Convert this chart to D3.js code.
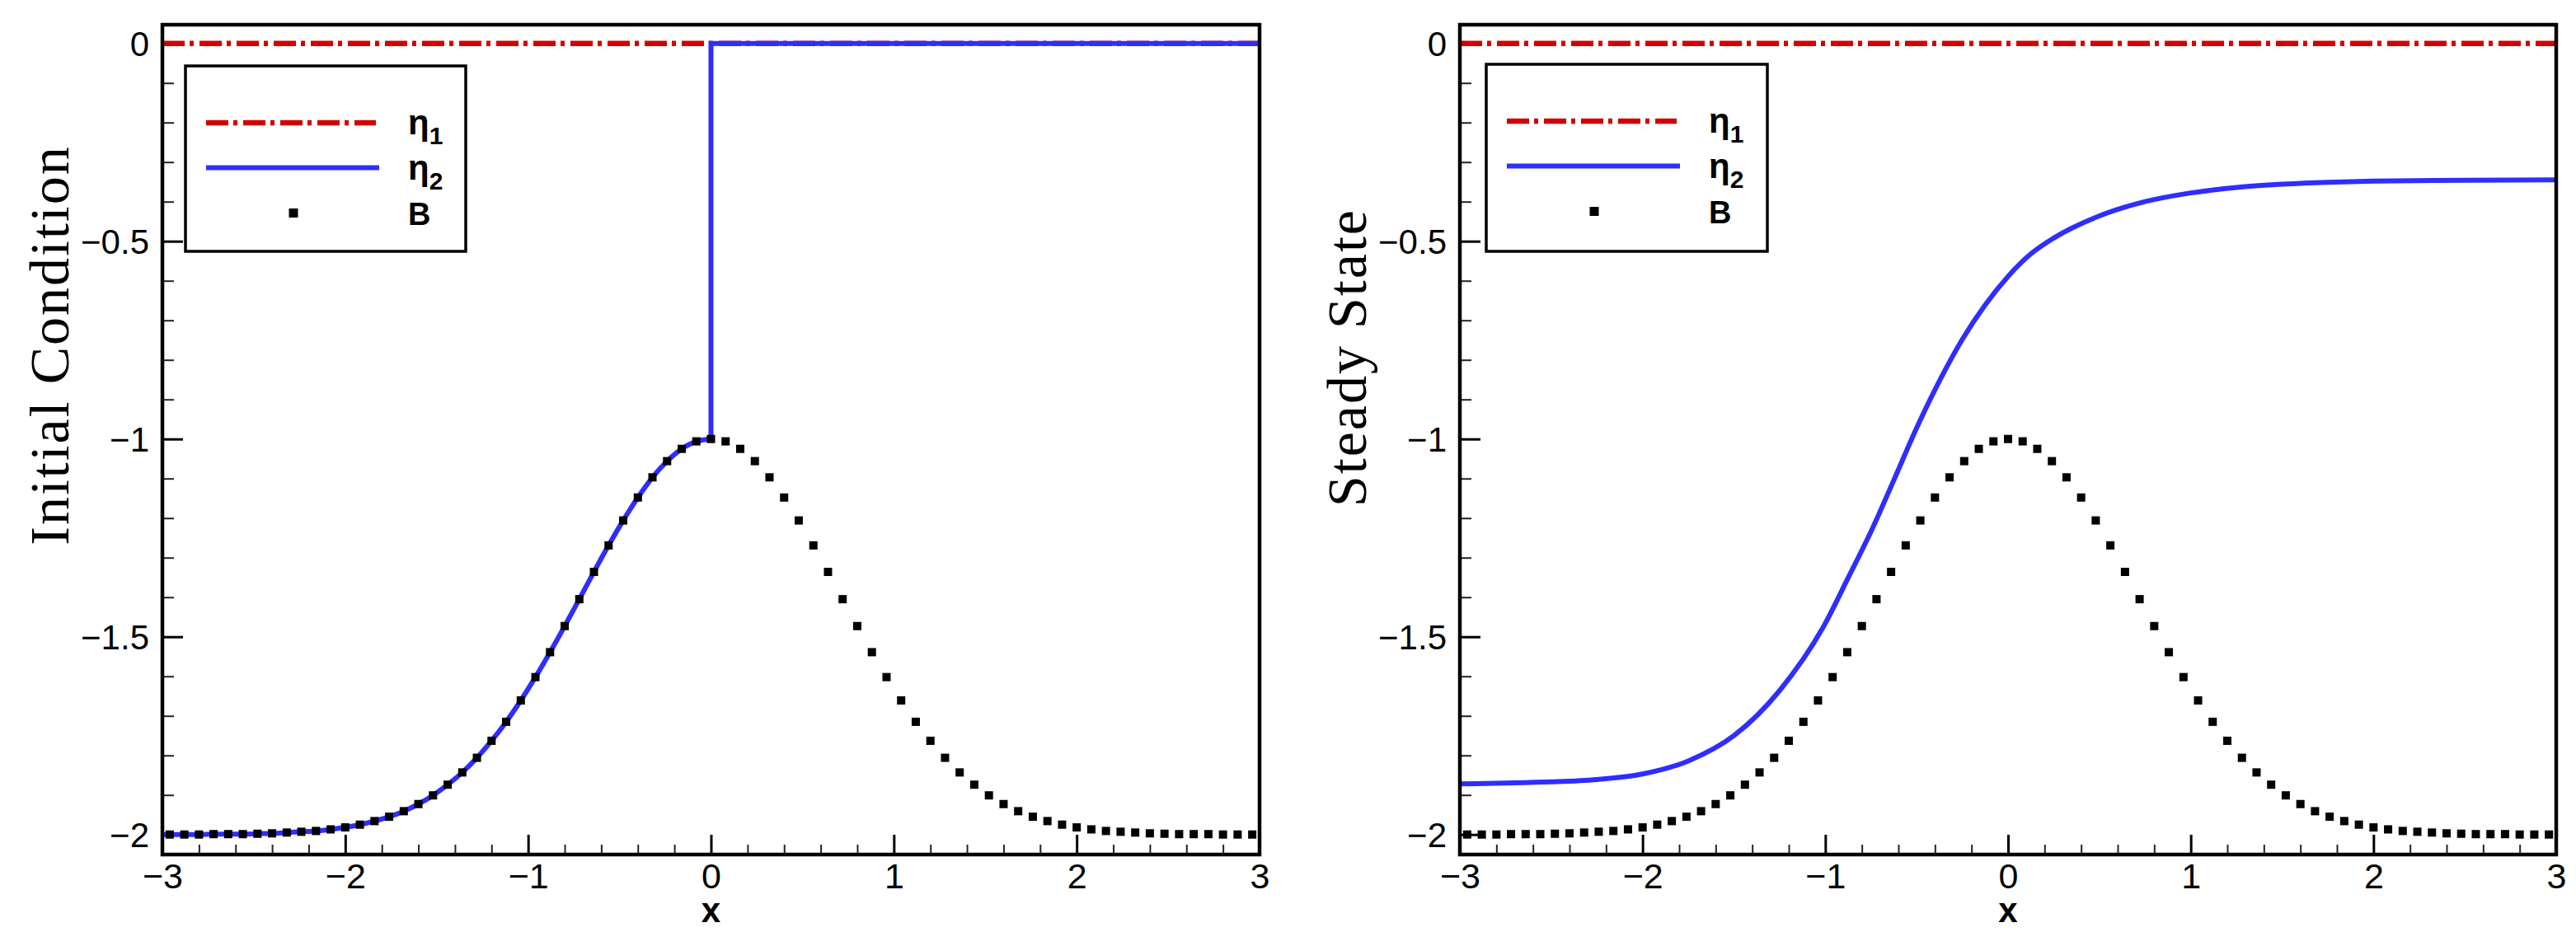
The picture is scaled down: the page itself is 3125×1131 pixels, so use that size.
<!DOCTYPE html>
<html>
<head>
<meta charset="utf-8">
<script src="https://cdn.jsdelivr.net/npm/d3@7/dist/d3.min.js"></script>
<style>
  html, body { margin: 0; padding: 0; background: #ffffff; }
  svg { display: block; }
</style>
</head>
<body>
<script>
// ---------------- DATA ----------------
const xTicks = [-3, -2, -1, 0, 1, 2, 3];
const xTickLabels = ["\u22123", "\u22122", "\u22121", "0", "1", "2", "3"];
const yTicks = [0, -0.5, -1, -1.5, -2];
const yTickLabels = ["0", "\u22120.5", "\u22121", "\u22121.5", "\u22122"];

const seriesNames = ["\u03b7", "\u03b7", "B"];
const seriesSubs = ["1", "2", ""];
const panelTitles = ["Initial Condition", "Steady State"];
const xTitle = "x";

// bottom topography B (markers), same in both panels
const bX = [-2.96,-2.88,-2.80,-2.72,-2.64,-2.56,-2.48,-2.40,-2.32,-2.24,-2.16,-2.08,-2.00,-1.92,-1.84,-1.76,-1.68,-1.60,-1.52,-1.44,-1.36,-1.28,-1.20,-1.12,-1.04,-0.96,-0.88,-0.80,-0.72,-0.64,-0.56,-0.48,-0.40,-0.32,-0.24,-0.16,-0.08,0.00,
            0.08,0.16,0.24,0.32,0.40,0.48,0.56,0.64,0.72,0.80,0.88,0.96,1.04,1.12,1.20,1.28,1.36,1.44,1.52,1.60,1.68,1.76,1.84,1.92,2.00,2.08,2.16,2.24,2.32,2.40,2.48,2.56,2.64,2.72,2.80,2.88,2.96];
const bY = [-2.000,-2.000,-2.000,-1.999,-1.999,-1.999,-1.998,-1.997,-1.995,-1.993,-1.991,-1.987,-1.982,-1.975,-1.966,-1.955,-1.941,-1.923,-1.901,-1.874,-1.843,-1.806,-1.763,-1.715,-1.661,-1.602,-1.539,-1.473,-1.405,-1.336,-1.269,-1.206,-1.148,-1.097,-1.056,-1.025,-1.006,-1.000,
            -1.006,-1.025,-1.056,-1.097,-1.148,-1.206,-1.269,-1.336,-1.405,-1.473,-1.539,-1.602,-1.661,-1.715,-1.763,-1.806,-1.843,-1.874,-1.901,-1.923,-1.941,-1.955,-1.966,-1.975,-1.982,-1.987,-1.991,-1.993,-1.995,-1.997,-1.998,-1.999,-1.999,-1.999,-2.000,-2.000,-2.000];

// eta1 (both panels)
const eta1X = [-3, 3];
const eta1InitY = [0, 0];
const eta1SteadyY = [0, 0];

// eta2 initial condition: follows B up to x=0, jumps to 0
const eta2InitX = [-3.00,-2.96,-2.88,-2.80,-2.72,-2.64,-2.56,-2.48,-2.40,-2.32,-2.24,-2.16,-2.08,-2.00,-1.92,-1.84,-1.76,-1.68,-1.60,-1.52,-1.44,-1.36,-1.28,-1.20,-1.12,-1.04,-0.96,-0.88,-0.80,-0.72,-0.64,-0.56,-0.48,-0.40,-0.32,-0.24,-0.16,-0.08,0.00, 0.00, 3.00];
const eta2InitY = [-2.000,-2.000,-2.000,-2.000,-1.999,-1.999,-1.999,-1.998,-1.997,-1.995,-1.993,-1.991,-1.987,-1.982,-1.975,-1.966,-1.955,-1.941,-1.923,-1.901,-1.874,-1.843,-1.806,-1.763,-1.715,-1.661,-1.602,-1.539,-1.473,-1.405,-1.336,-1.269,-1.206,-1.148,-1.097,-1.056,-1.025,-1.006,-1.000, 0.000, 0.000];
const eta2InitSmoothEnd = 38; // index of last point of the smooth part

// eta2 steady state
const eta2SteadyX = [-3.00,-2.75,-2.50,-2.25,-2.00,-1.75,-1.50,-1.25,-1.00,-0.875,-0.75,-0.625,-0.50,-0.375,-0.25,-0.125,0.00,0.125,0.25,0.50,0.75,1.00,1.25,1.50,1.75,2.00,2.50,3.00];
const eta2SteadyY = [-1.872,-1.870,-1.867,-1.861,-1.847,-1.814,-1.750,-1.636,-1.466,-1.351,-1.234,-1.104,-0.972,-0.853,-0.748,-0.661,-0.589,-0.532,-0.492,-0.436,-0.400,-0.378,-0.364,-0.356,-0.351,-0.348,-0.346,-0.345];

// ---------------- LAYOUT / STYLE ----------------
const W = 3125, H = 1131;
const frameTop = 30, frameBottom = 1037;
const yDomain = [-2.0506, 0.0473];
const colRed = "#d20000", colBlue = "#2e2eff";
const sansFont = "'Liberation Sans', Arial, Helvetica, sans-serif";
const serifFont = "'Liberation Serif', 'Times New Roman', serif";

const panels = [
  { x0: 197, x1: 1528, legX: 225, legY: 80, legW: 340, legH: 225,
    title: panelTitles[0], titleX: 83, titleY: 419, titleAnchor: "middle",
    eta1Y: eta1InitY, kind: "init" },
  { x0: 1771, x1: 3101, legX: 1803, legY: 78, legW: 341, legH: 227,
    title: panelTitles[1], titleX: 1657, titleY: 253, titleAnchor: "end",
    eta1Y: eta1SteadyY, kind: "steady" }
];

const svg = d3.select("body").append("svg")
  .attr("width", W).attr("height", H)
  .attr("viewBox", `0 0 ${W} ${H}`);

svg.append("rect").attr("width", W).attr("height", H).attr("fill", "#fff");

const y = d3.scaleLinear().domain(yDomain).range([frameBottom, frameTop]);

const xMinor = d3.range(-30, 31, 2).map(v => v / 10).filter(v => !xTicks.includes(v));
const yMinor = d3.range(-20, 1, 1).map(v => v / 10).filter(v => !yTicks.includes(v));

panels.forEach(p => {
  const x = d3.scaleLinear().domain([-3, 3]).range([p.x0, p.x1]);
  const g = svg.append("g");

  // ---- axes (ticks inward) ----
  const xMinorAxis = d3.axisBottom(x).tickValues(xMinor).tickFormat("")
    .tickSizeInner(-12).tickSizeOuter(0);
  const gxm = g.append("g").attr("transform", `translate(0,${frameBottom})`).call(xMinorAxis);
  gxm.select(".domain").remove();
  gxm.selectAll(".tick line").attr("stroke", "#222").attr("stroke-width", 2);

  const xAxis = d3.axisBottom(x).tickValues(xTicks)
    .tickFormat(d => xTickLabels[xTicks.indexOf(d)])
    .tickSizeInner(-24).tickSizeOuter(0).tickPadding(10);
  const gx = g.append("g").attr("transform", `translate(0,${frameBottom})`).call(xAxis);
  gx.select(".domain").remove();
  gx.selectAll(".tick line").attr("stroke", "#000").attr("stroke-width", 3);
  gx.selectAll(".tick text").attr("fill", "#000")
    .style("font-family", sansFont).style("font-size", "43px");

  const yMinorAxis = d3.axisLeft(y).tickValues(yMinor).tickFormat("")
    .tickSizeInner(-14).tickSizeOuter(0);
  const gym = g.append("g").attr("transform", `translate(${p.x0},0)`).call(yMinorAxis);
  gym.select(".domain").remove();
  gym.selectAll(".tick line").attr("stroke", "#222").attr("stroke-width", 2);

  const yAxis = d3.axisLeft(y).tickValues(yTicks)
    .tickFormat(d => yTickLabels[yTicks.indexOf(d)])
    .tickSizeInner(-25).tickSizeOuter(0).tickPadding(16);
  const gy = g.append("g").attr("transform", `translate(${p.x0},0)`).call(yAxis);
  gy.select(".domain").remove();
  gy.selectAll(".tick line").attr("stroke", "#000").attr("stroke-width", 3);
  gy.selectAll(".tick text").attr("fill", "#000").attr("dy", "0.36em")
    .style("font-family", sansFont).style("font-size", "42px");

  // ---- series ----
  const line = d3.line().x(d => x(d[0])).y(d => y(d[1]));
  const smooth = d3.line().x(d => x(d[0])).y(d => y(d[1])).curve(d3.curveMonotoneX);

  // eta1
  g.append("path")
    .attr("d", line(eta1X.map((v, i) => [v, p.eta1Y[i]])))
    .attr("fill", "none").attr("stroke", colRed).attr("stroke-width", 6.5)
    .attr("stroke-dasharray", "27 6 5 7");

  // eta2
  if (p.kind === "init") {
    const pts = eta2InitX.map((v, i) => [v, eta2InitY[i]]);
    g.append("path").attr("d", smooth(pts.slice(0, eta2InitSmoothEnd + 1)))
      .attr("fill", "none").attr("stroke", colBlue).attr("stroke-width", 6);
    g.append("path").attr("d", line(pts.slice(eta2InitSmoothEnd)))
      .attr("fill", "none").attr("stroke", colBlue).attr("stroke-width", 6);
  } else {
    const pts = eta2SteadyX.map((v, i) => [v, eta2SteadyY[i]]);
    g.append("path").attr("d", smooth(pts))
      .attr("fill", "none").attr("stroke", colBlue).attr("stroke-width", 6);
  }

  // B markers
  const ms = 10;
  g.append("g").selectAll("rect").data(bX.map((v, i) => [v, bY[i]])).join("rect")
    .attr("x", d => x(d[0]) - ms / 2).attr("y", d => y(d[1]) - ms / 2)
    .attr("width", ms).attr("height", ms).attr("fill", "#000");

  // ---- frame ----
  g.append("rect").attr("x", p.x0).attr("y", frameTop)
    .attr("width", p.x1 - p.x0).attr("height", frameBottom - frameTop)
    .attr("fill", "none").attr("stroke", "#000").attr("stroke-width", 4.5);

  // ---- titles ----
  g.append("text")
    .attr("transform", `translate(${p.titleX},${p.titleY}) rotate(-90)`)
    .attr("text-anchor", p.titleAnchor)
    .style("font-family", serifFont).style("font-size", "68px")
    .style("letter-spacing", "2px")
    .attr("fill", "#000").text(p.title);

  g.append("text").attr("x", x(0)).attr("y", 1119).attr("text-anchor", "middle")
    .style("font-family", sansFont).style("font-size", "42px").style("font-weight", "bold")
    .attr("fill", "#000").text(xTitle);

  // ---- legend ----
  const lg = g.append("g").attr("transform", `translate(${p.legX},${p.legY})`);
  lg.append("rect").attr("width", p.legW).attr("height", p.legH)
    .attr("fill", "#fff").attr("stroke", "#000").attr("stroke-width", 3.5);
  lg.append("line").attr("x1", 25).attr("x2", 231).attr("y1", 69).attr("y2", 69)
    .attr("stroke", colRed).attr("stroke-width", 6.5).attr("stroke-dasharray", "27 6 5 7");
  lg.append("line").attr("x1", 25).attr("x2", 235).attr("y1", 123.5).attr("y2", 123.5)
    .attr("stroke", colBlue).attr("stroke-width", 6);
  lg.append("rect").attr("x", 131 - 5.5).attr("y", 178.5 - 5.5)
    .attr("width", 11).attr("height", 11).attr("fill", "#000");

  const baselines = [83, 138, 193];
  seriesNames.forEach((nm, i) => {
    const t = lg.append("text").attr("x", 270).attr("y", baselines[i])
      .attr("fill", "#000").attr("font-family", sansFont).attr("font-weight", "bold");
    if (seriesSubs[i]) {
      t.append("tspan").attr("font-size", 42).text(nm);
      t.append("tspan").attr("dy", 12).attr("font-size", 30).text(seriesSubs[i]);
    } else {
      t.attr("font-size", 38).text(nm);
    }
  });
});
</script>
</body>
</html>
